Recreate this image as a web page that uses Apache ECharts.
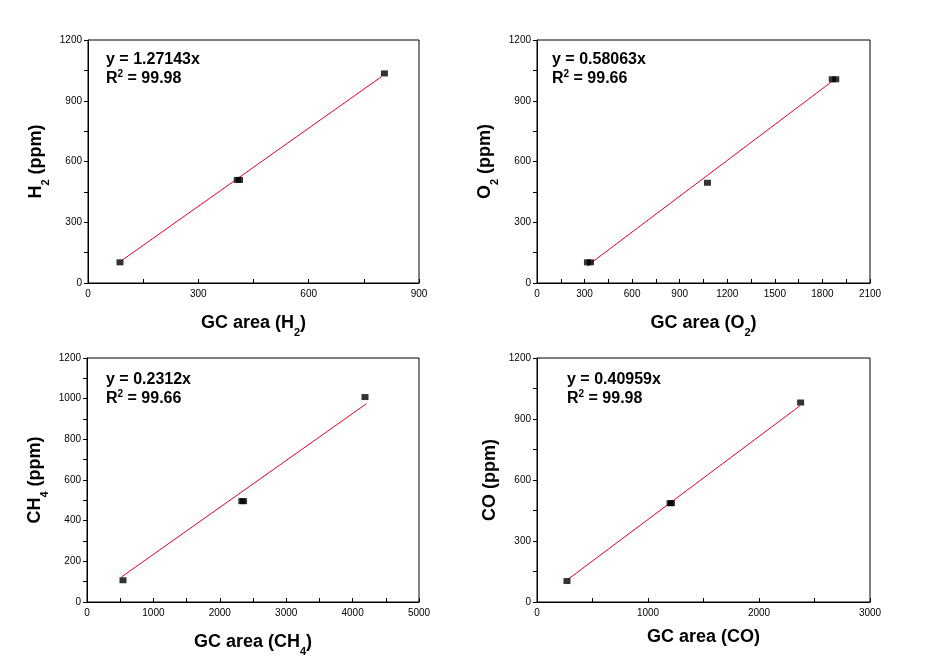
<!DOCTYPE html>
<html><head><meta charset="utf-8">
<script src="https://cdn.jsdelivr.net/npm/echarts@6/dist/echarts.min.js"></script>
<style>html,body{margin:0;padding:0;background:#fff;}#c{width:938px;height:658px;}</style>
</head><body><div id="c"></div>
<script>
// Panel 1: H2
const h2X = [87, 406, 412, 806];
const h2Y = [102, 509, 509, 1035];
const h2FitX = [94, 798];
const h2FitY = [114, 1019];
// Panel 2: O2
const o2X = [318, 337, 1075, 1862, 1884];
const o2Y = [102, 102, 495, 1006, 1006];
const o2FitX = [316, 1858];
const o2FitY = [84, 994];
// Panel 3: CH4
const ch4X = [542, 2332, 2358, 4187];
const ch4Y = [107, 496, 496, 1008];
const ch4FitX = [518, 4207];
const ch4FitY = [123, 975];
// Panel 4: CO
const coX = [270, 1199, 1211, 2375];
const coY = [103, 486, 486, 981];
const coFitX = [280, 2369];
const coFitY = [112, 965];

const xMax = [900, 2100, 5000, 3000];
const xInt = [300, 300, 1000, 1000];
const yMax = [1200, 1200, 1200, 1200];
const yInt = [300, 300, 200, 300];
const xNames = ['GC area (H{sub|2})', 'GC area (O{sub|2})', 'GC area (CH{sub|4})', 'GC area (CO)'];
const yNames = ['H{sub|2} (ppm)', 'O{sub|2} (ppm)', 'CH{sub|4} (ppm)', 'CO (ppm)'];
const eqs = ['y = 1.27143x', 'y = 0.58063x', 'y = 0.2312x', 'y = 0.40959x'];
const r2s = ['99.98', '99.66', '99.66', '99.98'];

const panels = [[h2X,h2Y,h2FitX,h2FitY],[o2X,o2Y,o2FitX,o2FitY],[ch4X,ch4Y,ch4FitX,ch4FitY],[coX,coY,coFitX,coFitY]];

const grids = [
  {left: 88, top: 40, width: 331, height: 243},
  {left: 537, top: 40, width: 333, height: 243},
  {left: 87, top: 358, width: 332, height: 244},
  {left: 537, top: 358, width: 333, height: 244}
];
const eqPos = [[106, 50], [552, 50], [106, 370], [567, 370]];

const font = 'Liberation Sans, Arial, sans-serif';
const nameStyle = {
  fontFamily: font, fontSize: 18, fontWeight: 'bold', color: '#000', lineHeight: 20,
  rich: { sub: { fontFamily: font, fontSize: 11, fontWeight: 'bold', color: '#000', verticalAlign: 'bottom', lineHeight: 30 } }
};
const labelStyle = {fontFamily: font, fontSize: 10, color: '#000', margin: 6, formatter: v => String(v)};

const option = {
  animation: false,
  backgroundColor: '#fff',
  grid: grids.map(g => Object.assign({show: true, borderColor: '#000', borderWidth: 1, backgroundColor: 'transparent'}, g)),
  xAxis: grids.map((g, i) => ({
    type: 'value', gridIndex: i, min: 0, max: xMax[i], interval: xInt[i],
    name: xNames[i], nameLocation: 'middle', nameGap: 25, nameTextStyle: nameStyle,
    axisLine: {show: true, onZero: false, lineStyle: {color: '#000', width: 1}},
    axisTick: {show: true, inside: true, length: 4, lineStyle: {color: '#000'}},
    minorTick: {show: true, splitNumber: 2, length: 4, lineStyle: {color: '#000'}},
    splitLine: {show: false},
    axisLabel: labelStyle
  })),
  yAxis: grids.map((g, i) => ({
    type: 'value', gridIndex: i, min: 0, max: yMax[i], interval: yInt[i],
    name: yNames[i], nameLocation: 'middle', nameGap: 37, nameTextStyle: nameStyle,
    axisLine: {show: true, onZero: false, lineStyle: {color: '#000', width: 1}},
    axisTick: {show: true, inside: false, length: 4, lineStyle: {color: '#000'}},
    minorTick: {show: true, splitNumber: 2, length: 4, lineStyle: {color: '#000'}},
    splitLine: {show: false},
    axisLabel: labelStyle
  })),
  title: eqs.map((e, i) => ({
    text: '{t|' + e + '}\n{t|R}{sup|2}{t| = ' + r2s[i] + '}',
    left: eqPos[i][0], top: eqPos[i][1], padding: 0,
    textStyle: {
      fontFamily: font, fontSize: 16, fontWeight: 'bold', color: '#000',
      rich: {
        t: {fontFamily: font, fontSize: 16, fontWeight: 'bold', color: '#000', lineHeight: 19},
        sup: {fontFamily: font, fontSize: 10, fontWeight: 'bold', color: '#000', verticalAlign: 'top', lineHeight: 19}
      }
    }
  })),
  series: []
};

panels.forEach((p, i) => {
  option.series.push({
    type: 'line', xAxisIndex: i, yAxisIndex: i, symbol: 'none',
    lineStyle: {color: '#e8001c', width: 1}, z: 2,
    data: p[2].map((x, k) => [x, p[3][k]])
  });
  option.series.push({
    type: 'scatter', xAxisIndex: i, yAxisIndex: i, symbol: 'rect', symbolSize: [7, 6],
    itemStyle: {color: '#000'}, z: 3,
    data: p[0].map((x, k) => [x, p[1][k]])
  });
});

const chart = echarts.init(document.getElementById('c'));
chart.setOption(option);
</script></body></html>
